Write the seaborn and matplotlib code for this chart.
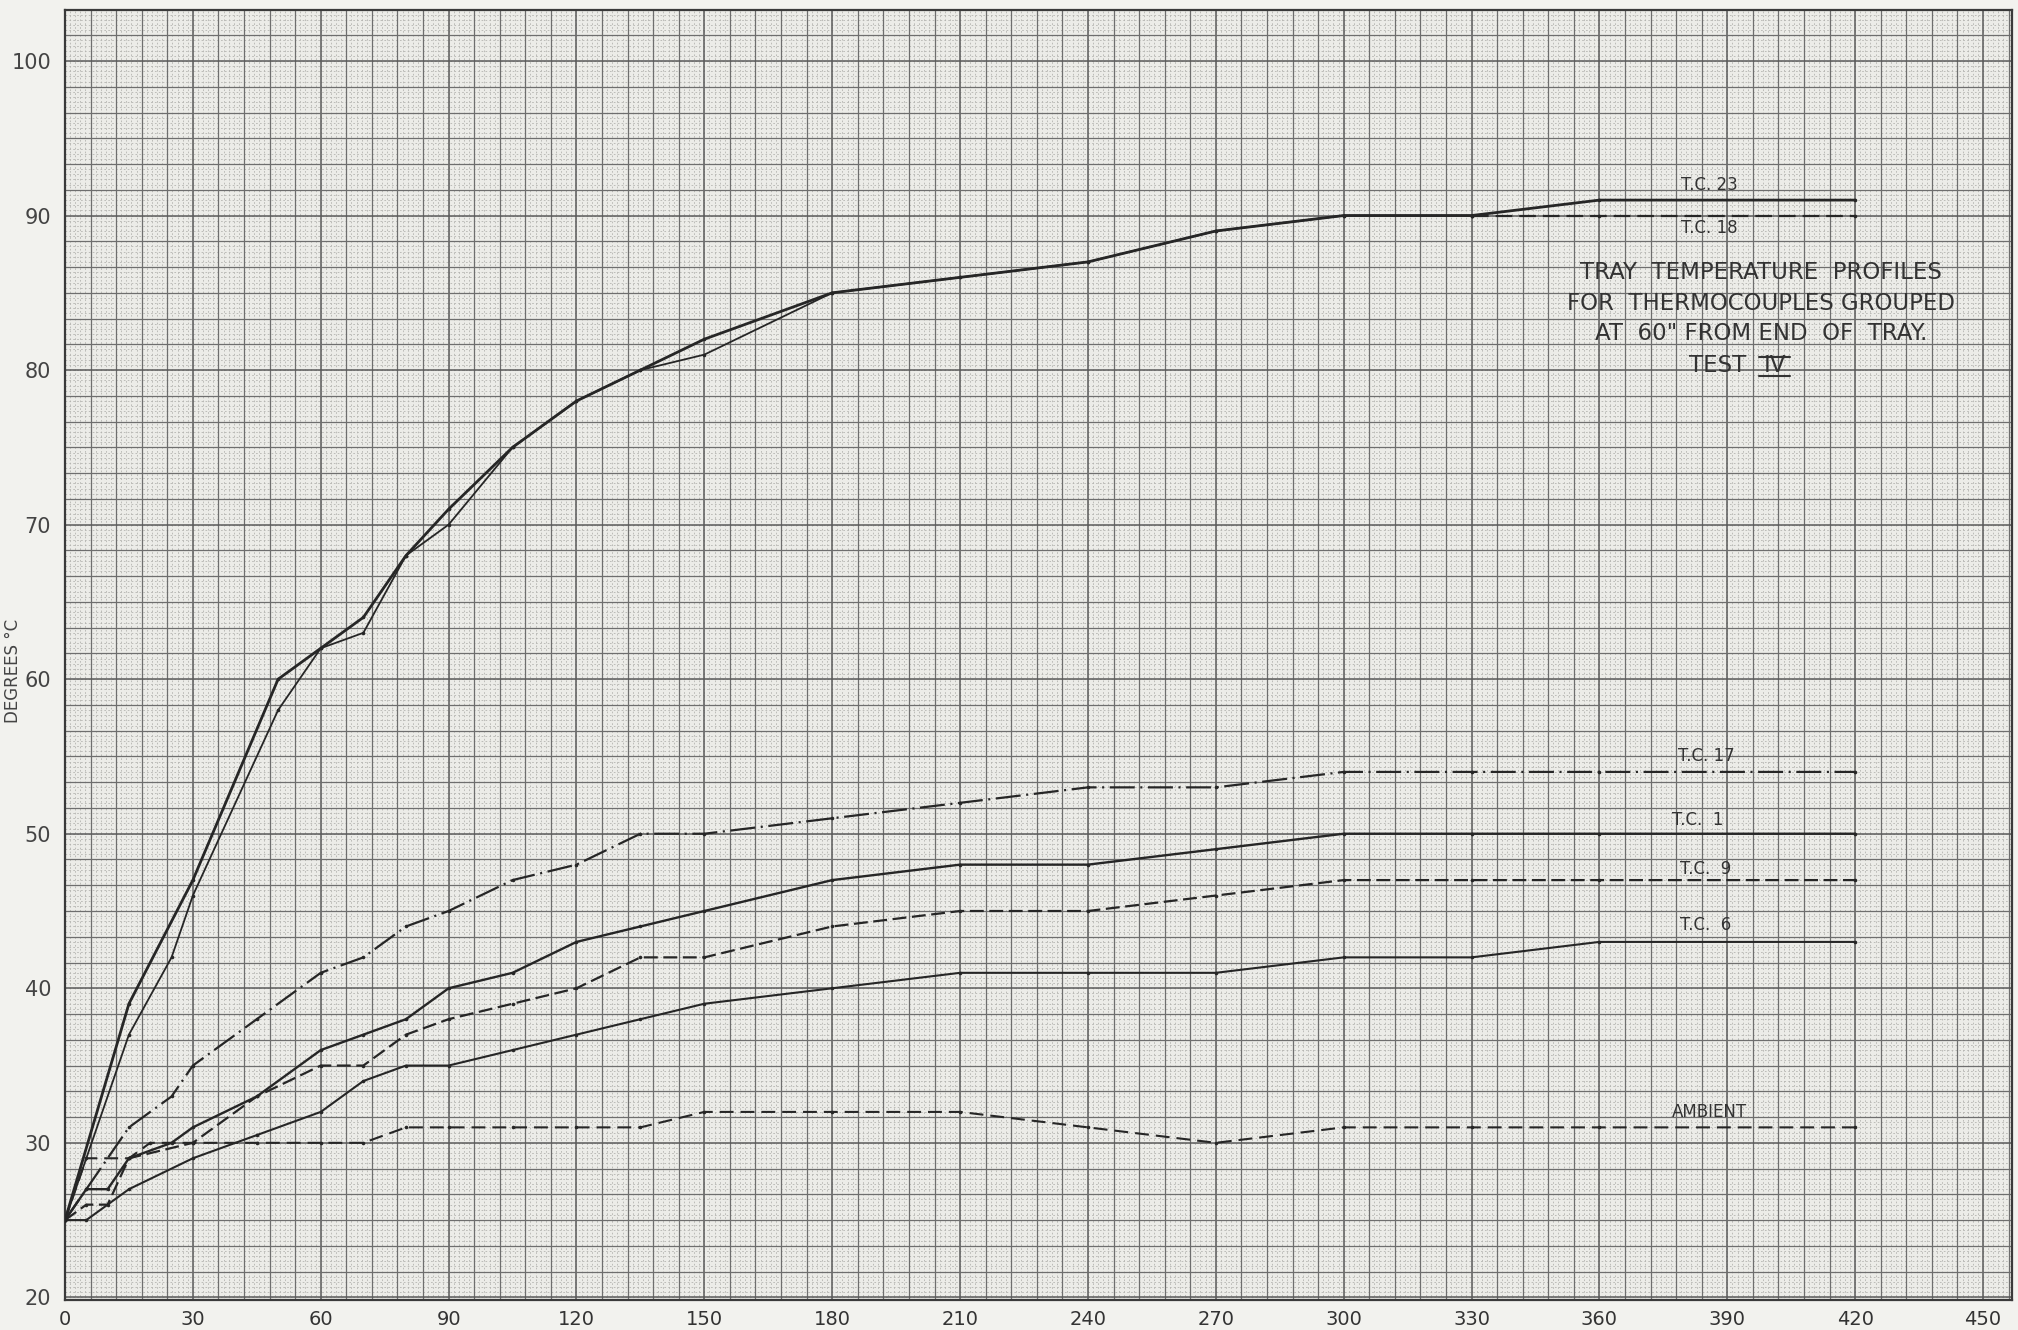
import numpy as np
import matplotlib
matplotlib.use("Agg")
import matplotlib.pyplot as plt
from matplotlib.lines import Line2D
import seaborn as sns

# ---------------- data (time in minutes, temperature in degrees C) ----------------
tc23_t = [0, 15, 30, 50, 60, 70, 80, 90, 105, 120, 135, 150, 180, 210, 240, 270, 300, 330, 360, 420]
tc23_v = [25, 39, 47, 60, 62, 64, 68, 71, 75, 78, 80, 82, 85, 86, 87, 89, 90, 90, 91, 91]

tc18_t = [0, 15, 25, 30, 50, 60, 70, 80, 90, 105, 120, 135, 150, 180, 210, 240, 270, 300, 330, 360, 420]
tc18_v = [25, 37, 42, 46, 58, 62, 63, 68, 70, 75, 78, 80, 81, 85, 86, 87, 89, 90, 90, 90, 90]
tc18_dash_from = 330

tc17_t = [0, 5, 15, 25, 30, 45, 60, 70, 80, 90, 105, 120, 135, 150, 180, 210, 240, 270, 300, 330, 360, 420]
tc17_v = [25, 27, 31, 33, 35, 38, 41, 42, 44, 45, 47, 48, 50, 50, 51, 52, 53, 53, 54, 54, 54, 54]

tc1_t = [0, 5, 10, 15, 25, 30, 45, 60, 70, 80, 90, 105, 120, 135, 150, 180, 210, 240, 270, 300, 330, 360, 420]
tc1_v = [25, 27, 27, 29, 30, 31, 33, 36, 37, 38, 40, 41, 43, 44, 45, 47, 48, 48, 49, 50, 50, 50, 50]

tc9_t = [0, 5, 10, 15, 30, 45, 60, 70, 80, 90, 105, 120, 135, 150, 180, 210, 240, 270, 300, 330, 360, 420]
tc9_v = [25, 26, 26, 29, 30, 33, 35, 35, 37, 38, 39, 40, 42, 42, 44, 45, 45, 46, 47, 47, 47, 47]

tc6_t = [0, 5, 15, 30, 45, 60, 70, 80, 90, 105, 120, 135, 150, 180, 210, 240, 270, 300, 330, 360, 420]
tc6_v = [25, 25, 27, 29, 30.5, 32, 34, 35, 35, 36, 37, 38, 39, 40, 41, 41, 41, 42, 42, 43, 43]

amb_t = [0, 5, 15, 20, 30, 45, 60, 70, 80, 90, 105, 120, 135, 150, 180, 210, 240, 270, 300, 330, 360, 420]
amb_v = [25, 29, 29, 30, 30, 30, 30, 30, 31, 31, 31, 31, 31, 32, 32, 32, 31, 30, 31, 31, 31, 31]

x_ticks = [0, 30, 60, 90, 120, 150, 180, 210, 240, 270, 300, 330, 360, 390, 420, 450]
y_ticks = [20, 30, 40, 50, 60, 70, 80, 90, 100]

series_labels = ["T.C. 23", "T.C. 18", "T.C. 17", "T.C.  1", "T.C.  9", "T.C.  6", "AMBIENT"]
title_lines = ["TRAY  TEMPERATURE  PROFILES",
               "FOR  THERMOCOUPLES GROUPED",
               "AT  60\" FROM END  OF  TRAY."]
test_word = "TEST"
test_num = "IV"
y_label = "DEGREES °C"

# ---------------- style ----------------
sns.set_theme(style="white")
plt.rcParams['font.family'] = ['DejaVu Sans']
plt.rcParams['lines.scale_dashes'] = False

INK = "#262626"
GRID = "#6e6e6e"
FINE = "#b4b4b0"
PAPER = "#ecece8"

W, H = 2018, 1330
fig = plt.figure(figsize=(W / 100, H / 100), dpi=100, facecolor="#f2f2ee")
ax = fig.add_axes([65 / W, 30 / H, 1947 / W, 1290 / H])
ax.set_facecolor(PAPER)

XMAX, YMIN, YMAX = 456.8, 19.83, 103.3
ax.set_xlim(0, XMAX)
ax.set_ylim(YMIN, YMAX)

# graph-paper grid: fine dotted sub-lines, square lines, label lines
for v in np.arange(0, XMAX, 1.2):
    ax.axvline(v, color=FINE, lw=0.6, ls=(0, (1.2, 1.6)), zorder=0)
for h in np.arange(20, YMAX, 1 / 3):
    ax.axhline(h, color=FINE, lw=0.6, ls=(0, (1.2, 1.6)), zorder=0)

ax.set_xticks(x_ticks)
ax.set_yticks(y_ticks)
ax.set_xticks(np.arange(0, XMAX, 6), minor=True)
ax.set_yticks(np.arange(20, YMAX, 10 / 6), minor=True)
ax.grid(which="minor", color=GRID, lw=0.9, zorder=1)
ax.grid(which="major", color="#5a5a5a", lw=1.1, zorder=1)
ax.set_axisbelow(True)

for s in ax.spines.values():
    s.set_color("#3a3a3a")
    s.set_linewidth(1.6)

ax.tick_params(axis="both", which="both", length=0)
ax.tick_params(axis="x", labelsize=14, pad=7, labelcolor="#333333")
ax.tick_params(axis="y", labelsize=15, pad=10, labelcolor="#444444")

# ---------------- lines ----------------
common = dict(ax=ax, color=INK, estimator=None, marker="o", markersize=2.6,
              markeredgewidth=0, zorder=3)

sns.lineplot(x=tc23_t, y=tc23_v, lw=2.0, **common)

t18 = np.array(tc18_t)
v18 = np.array(tc18_v)
solid = t18 <= tc18_dash_from
dashed = t18 >= tc18_dash_from
sns.lineplot(x=t18[solid], y=v18[solid], lw=1.3, **common)
sns.lineplot(x=t18[dashed], y=v18[dashed], lw=1.6, linestyle=(0, (12, 5)), **common)

sns.lineplot(x=tc17_t, y=tc17_v, lw=1.6, linestyle=(0, (18, 4, 1.5, 4)), **common)
sns.lineplot(x=tc1_t, y=tc1_v, lw=1.7, **common)
sns.lineplot(x=tc9_t, y=tc9_v, lw=1.6, linestyle=(0, (10, 4)), **common)
sns.lineplot(x=tc6_t, y=tc6_v, lw=1.5, **common)
sns.lineplot(x=amb_t, y=amb_v, lw=1.5, linestyle=(0, (10, 5)), **common)

# ---------------- annotations ----------------
label_pos = [(385.7, 92.0), (385.7, 89.2), (385.0, 55.0), (383.0, 50.9),
             (385.0, 47.7), (385.0, 44.1), (385.7, 32.0)]
for txt, (lx, ly) in zip(series_labels, label_pos):
    ax.text(lx, ly, txt, ha="center", va="center", fontsize=12, color="#333333", zorder=4)

title_y = [86.3, 84.3, 82.4]
for txt, ty in zip(title_lines, title_y):
    ax.text(398.0, ty, txt, ha="center", va="center", fontsize=16.5, color="#333333", zorder=4)
ax.text(394.5, 80.3, test_word, ha="right", va="center", fontsize=16.5, color="#333333", zorder=4)
iv = ax.text(398.5, 80.3, test_num, ha="left", va="center", fontsize=16.5, color="#333333", zorder=4)

ax.set_xlabel("")
ax.set_ylabel(y_label, fontsize=12, color="#444444")
ax.yaxis.set_label_coords(-0.0222, 0.488)

# bars above and below the roman numeral
fig.canvas.draw()
bb = iv.get_window_extent().transformed(fig.transFigure.inverted())
for yy in (bb.y0 + 0.0005, bb.y1 - 0.002):
    fig.add_artist(Line2D([bb.x0 - 0.002, bb.x1 + 0.002], [yy, yy], color="#333333", lw=1.5))

fig.savefig("out.png", dpi=100, facecolor=fig.get_facecolor())
